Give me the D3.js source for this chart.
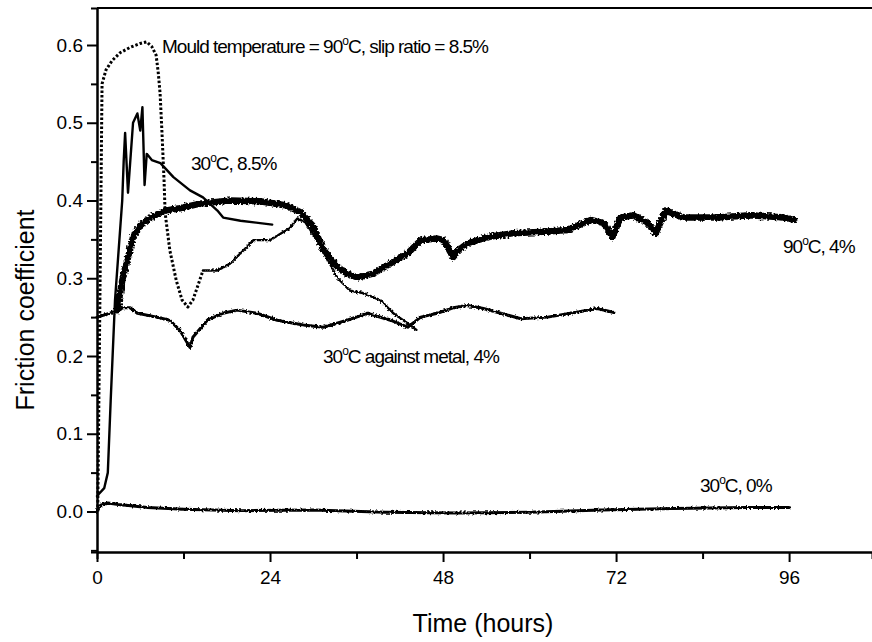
<!DOCTYPE html>
<html>
<head>
<meta charset="utf-8">
<script src="https://cdn.jsdelivr.net/npm/d3@7/dist/d3.min.js"></script>
<style>
  body { margin: 0; background: #fff; }
  svg { display: block; font-family: "Liberation Sans", Arial, sans-serif; }
  .line { fill: none; stroke: #000; stroke-linejoin: round; stroke-linecap: round; }
</style>
</head>
<body>
<svg width="872" height="642"></svg>
<script>
// time (hours) / friction coefficient
var mould90_85 = [[0.1,0],[0.4,0.27],[0.7,0.55],[1.25,0.568],[2.1,0.58],[3.2,0.59],[4.6,0.597],[6.0,0.602],
    [6.9,0.604],[7.6,0.598],[8.2,0.587],[8.5,0.564],[8.75,0.538],[9.0,0.49],[9.3,0.426],[9.45,0.384],
    [10.1,0.336],[11.0,0.297],[11.8,0.272],[12.6,0.263],[13.3,0.272],[13.9,0.288],[14.7,0.31],
    [15.7,0.31],[16.7,0.31],[18.5,0.319],[19.9,0.332],[21.7,0.349],[24.0,0.349],[26.8,0.365],
    [27.8,0.377],[28.9,0.372],[31.0,0.342],[33.3,0.301],[35.1,0.284],[36.9,0.281],[39.3,0.272],
    [41.1,0.255],[43.1,0.242],[44.4,0.233]];
var dottedUntil = 14.7;

var c30_85 = [[0,0.02],[1.0,0.03],[1.5,0.05],[1.9,0.143],[2.5,0.272],[3.5,0.40],[3.7,0.45],[3.9,0.487],
    [4.3,0.41],[5.0,0.50],[5.6,0.512],[6.0,0.49],[6.3,0.52],[6.6,0.42],[6.9,0.46],[7.6,0.452],[8.8,0.448],
    [10.6,0.43],[12.9,0.413],[14.7,0.404],[16.7,0.387],[17.5,0.378],[19.9,0.374],[24.3,0.369]];

var c90_4 = [[2.8,0.259],[3.5,0.297],[4.2,0.323],[5.0,0.353],[6.0,0.368],[7.4,0.378],[9.4,0.387],
    [11.5,0.39],[14.3,0.396],[18.5,0.40],[22.6,0.399],[26.1,0.394],[28.2,0.385],[29.9,0.368],[31.4,0.337],
    [33.3,0.315],[34.7,0.306],[36.1,0.301],[38.3,0.306],[40.7,0.319],[43.1,0.332],[44.9,0.349],[47.2,0.351],
    [48.1,0.349],[49.4,0.327],[50.1,0.336],[51.4,0.345],[54.2,0.353],[57.8,0.358],[62.5,0.36],[65.3,0.362],
    [68.5,0.375],[70.3,0.371],[71.5,0.353],[72.6,0.378],[74.4,0.381],[76.4,0.371],[77.5,0.358],[78.9,0.387],
    [81.4,0.378],[86.1,0.378],[90.7,0.381],[95.3,0.378],[96.7,0.375]];

var c30_metal = [[0,0.25],[1.8,0.255],[3.6,0.262],[4.6,0.262],[5.6,0.255],[8.3,0.25],[10.1,0.246],
    [11.5,0.233],[12.9,0.211],[13.3,0.224],[15.3,0.246],[17.5,0.255],[19.4,0.259],[22.2,0.255],[25,0.246],
    [28.6,0.24],[31.4,0.237],[34.7,0.246],[37.5,0.255],[40.7,0.246],[43.1,0.237],[44.9,0.25],[47.2,0.255],
    [49.4,0.262],[51.4,0.265],[53.6,0.261],[56,0.255],[58.8,0.248],[62.5,0.25],[65.7,0.255],[69.4,0.261],
    [71.7,0.256]];

var c30_0 = [[0,0],[0.5,0.008],[1.5,0.011],[3,0.009],[7,0.005],[12,0.003],[20,0.001],[30,0.002],
    [40,-0.001],[50,-0.002],[60,-0.001],[70,0.002],[80,0.004],[90,0.005],[96,0.005]];

var xTicks = [0, 24, 48, 72, 96];
var xMinor = [12, 36, 60, 84];
var yTicks = [0, 0.1, 0.2, 0.3, 0.4, 0.5, 0.6];
var yMinor = [-0.05, 0.05, 0.15, 0.25, 0.35, 0.45, 0.55];

var svg = d3.select("svg");
var x = d3.scaleLinear().domain([0, 107.5]).range([97, 872]);
var y = d3.scaleLinear().domain([-0.0521, 0.6476]).range([552, 8]);

// jagged look of the recorded traces (drawing style only)
var defs = svg.append("defs");
function roughFilter(id, freq, scale, seed) {
    var f = defs.append("filter").attr("id", id).attr("filterUnits", "userSpaceOnUse")
        .attr("x", 0).attr("y", 0).attr("width", 872).attr("height", 642);
    f.append("feTurbulence").attr("type", "fractalNoise").attr("baseFrequency", freq)
        .attr("numOctaves", 1).attr("seed", seed).attr("result", "n");
    f.append("feDisplacementMap").attr("in", "SourceGraphic").attr("in2", "n")
        .attr("scale", scale).attr("xChannelSelector", "R").attr("yChannelSelector", "G");
}
roughFilter("roughHeavy", 0.5, 5, 3);
roughFilter("roughLight", 0.5, 3.5, 7);

var line = d3.line().x(function (d) { return x(d[0]); }).y(function (d) { return y(d[1]); });

// axes
var axisStyle = function (g) {
    g.selectAll(".domain").attr("stroke", "#000").attr("stroke-width", 2);
    g.selectAll(".tick line").attr("stroke", "#000").attr("stroke-width", 2);
    g.selectAll(".tick text").attr("font-size", 19).attr("fill", "#000")
        .attr("font-family", "Liberation Sans, Arial, sans-serif");
};
svg.append("g").attr("transform", "translate(0,552)")
    .call(d3.axisBottom(x).tickValues(xMinor).tickSize(7).tickFormat(""))
    .call(axisStyle);
svg.append("g").attr("transform", "translate(0,552)")
    .call(d3.axisBottom(x).tickValues(xTicks).tickSize(10).tickPadding(9).tickSizeOuter(0).tickFormat(d3.format("d")))
    .call(axisStyle);
svg.append("g").attr("transform", "translate(97,0)")
    .call(d3.axisLeft(y).tickValues(yMinor).tickSize(6).tickFormat(""))
    .call(axisStyle);
svg.append("g").attr("transform", "translate(97,0)")
    .call(d3.axisLeft(y).tickValues(yTicks).tickSize(10).tickPadding(4).tickSizeOuter(0).tickFormat(d3.format(".1f")))
    .call(axisStyle);
svg.append("line").attr("x1", 97).attr("x2", 872).attr("y1", 8).attr("y2", 8)
    .attr("stroke", "#000").attr("stroke-width", 2);

svg.append("text").attr("x", 483).attr("y", 632).attr("text-anchor", "middle")
    .attr("font-size", 25).attr("fill", "#000").text("Time (hours)");
svg.append("text").attr("transform", "translate(34,310) rotate(-90)").attr("text-anchor", "middle")
    .attr("font-size", 25).attr("fill", "#000").text("Friction coefficient");

// series
svg.append("path").datum(c30_0).attr("class", "line").attr("stroke-width", 3)
    .attr("filter", "url(#roughLight)").attr("d", line);
svg.append("path").datum(c30_metal).attr("class", "line").attr("stroke-width", 3)
    .attr("filter", "url(#roughLight)").attr("d", line);
svg.append("path").datum(c90_4).attr("class", "line").attr("stroke-width", 6.5)
    .attr("filter", "url(#roughHeavy)").attr("d", line);
svg.append("path").datum(c30_85).attr("class", "line").attr("stroke-width", 2.4).attr("d", line);
svg.append("path").datum(mould90_85.filter(function (d) { return d[0] <= dottedUntil; }))
    .attr("class", "line").style("stroke-linecap", "butt").attr("stroke-width", 3)
    .style("stroke-dasharray", "2.5,2").attr("d", line);
svg.append("path").datum(mould90_85.filter(function (d) { return d[0] >= dottedUntil; }))
    .attr("class", "line").attr("stroke-width", 2.4).style("stroke-dasharray", "9,2")
    .attr("filter", "url(#roughLight)").attr("d", line);

// labels: [before degree, after degree, x, y, width]
var labels = [
    ["Mould temperature = 90", "C, slip ratio = 8.5%", 162, 53, 358],
    ["30", "C, 8.5%", 191, 170, 96],
    ["90", "C, 4%", 783, 253, 82],
    ["30", "C against metal, 4%", 323, 363, 193],
    ["30", "C, 0%", 700, 492, 85]
];
labels.forEach(function (l) {
    var t = svg.append("text").attr("x", l[2]).attr("y", l[3]).attr("font-size", 19)
        .attr("fill", "#000").attr("letter-spacing", -1);
    t.append("tspan").text(l[0]);
    t.append("tspan").attr("dy", -8).attr("font-size", 12).text("o");
    t.append("tspan").attr("dy", 8).text(l[1]);
    var w = t.node().getComputedTextLength();
    if (w > l[4]) {
        t.attr("textLength", l[4]).attr("lengthAdjust", "spacingAndGlyphs");
    }
});
</script>
</body>
</html>
